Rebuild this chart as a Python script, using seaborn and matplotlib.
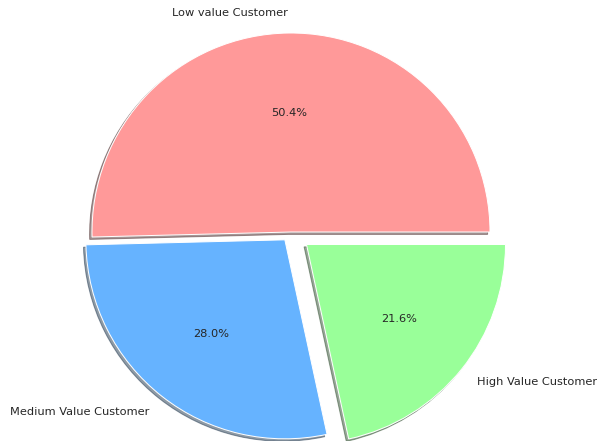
import matplotlib
matplotlib.use("Agg")
import matplotlib.pyplot as plt
import seaborn as sns

# Customer segments and their share of the customer base (%)
segments = ["Low value Customer", "Medium Value Customer", "High Value Customer"]
shares = [50.4, 28.0, 21.6]
colors = ["#ff9999", "#66b3ff", "#99ff99"]
explode = [0.0, 0.05, 0.1]

sns.set_style("white")
plt.rcParams["font.family"] = ["DejaVu Sans"]
plt.rcParams["font.size"] = 11.4

W, H, DPI = 597, 441, 72
fig = plt.figure(figsize=(W / DPI, H / DPI), dpi=DPI)

# square axes centred on the pie, sized so that radius 1 is ~199 px
cx, cy, R = 291.0, 441 - 232.0, 199.0
side = 2.5 * R
ax = fig.add_axes([(cx - side / 2) / W, (cy - side / 2) / H, side / W, side / H])

ax.pie(shares, labels=segments, colors=colors, explode=explode,
       autopct="%1.1f%%", startangle=0,
       shadow={"ox": -0.012, "oy": -0.012, "label": "_nolegend_"})
ax.set_xlim(-1.25, 1.25)
ax.set_ylim(-1.25, 1.25)
ax.set_aspect("equal")

fig.savefig("out.png", dpi=DPI)
